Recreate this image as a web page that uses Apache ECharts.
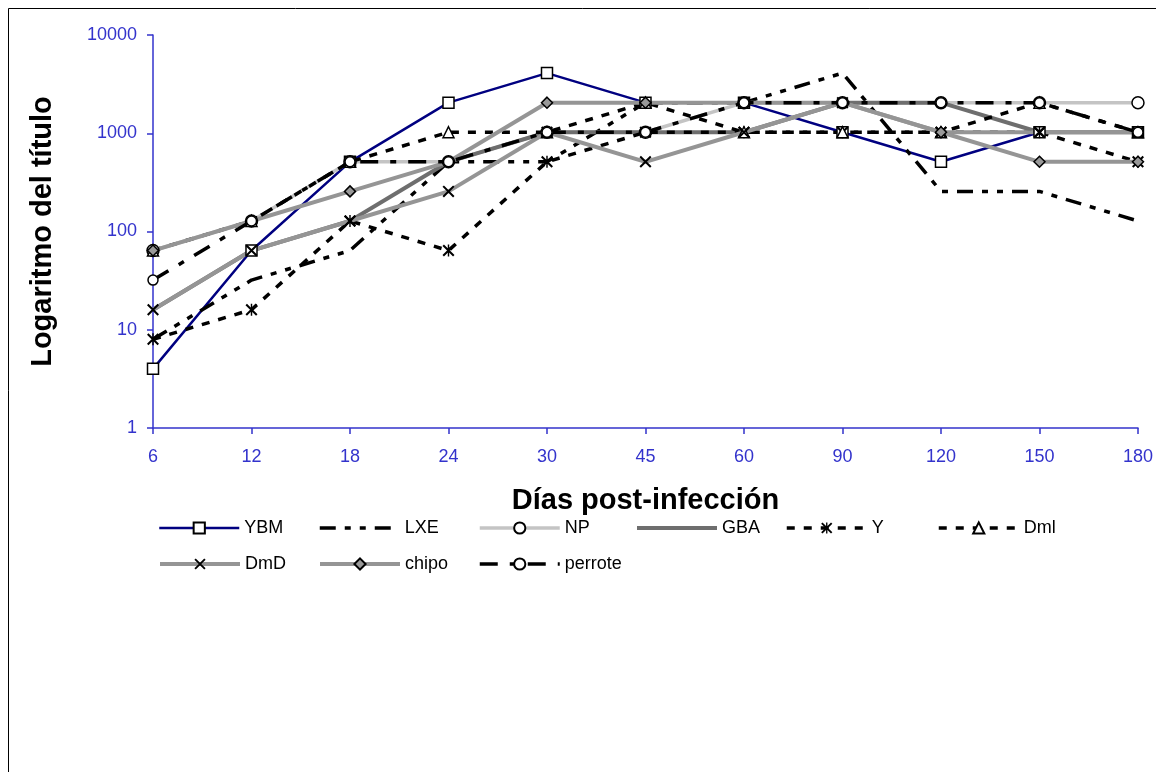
<!DOCTYPE html>
<html>
<head>
    <meta charset="utf-8">
    <script src="https://cdn.jsdelivr.net/npm/echarts@6/dist/echarts.min.js"></script>
</head>
<body style="margin:0;background:#fff">
    <div id="main" style="width: 1156px;height:772px;"></div>
    <script type="text/javascript">
        // días post-infección y títulos (escala log)
        var dias = ['6', '12', '18', '24', '30', '45', '60', '90', '120', '150', '180'];
        var YBM = [4, 64, 512, 2048, 4096, 2048, 2048, 1024, 512, 1024, 1024];
        var LXE = [8, 32, 64, 512, 512, 2048, 2048, 4096, 256, 256, 128];
        var NP = [64, 128, 512, 512, 1024, 1024, 2048, 2048, 2048, 2048, 2048];
        var GBA = [16, 64, 128, 512, 1024, 1024, 1024, 2048, 2048, 1024, 1024];
        var Y = [8, 16, 128, 64, 512, 1024, 1024, 1024, 1024, 1024, 512];
        var Dml = [64, 128, 512, 1024, 1024, 2048, 1024, 1024, 1024, 2048, 1024];
        var DmD = [16, 64, 128, 256, 1024, 512, 1024, 2048, 1024, 1024, 1024];
        var chipo = [64, 128, 256, 512, 2048, 2048, 2048, 2048, 1024, 512, 512];
        var perrote = [32, 128, 512, 512, 1024, 1024, 2048, 2048, 2048, 2048, 1024];

        var cruz = 'path://M0,1.2 L1.2,0 L10,8.8 L8.8,10 Z M8.8,0 L10,1.2 L1.2,10 L0,8.8 Z';
        var asterisco = cruz + ' M4.4,0 L5.6,0 L5.6,10 L4.4,10 Z';
        var azul = '#3333cc';

        function serie(nombre, datos, linea, simbolo, tam, estilo) {
            var s = {
                name: nombre,
                type: 'line',
                data: datos,
                symbol: simbolo,
                symbolSize: tam,
                showAllSymbol: true,
                lineStyle: linea,
                itemStyle: estilo
            };
            if (estilo.opacity === 0) s.showSymbol = false;
            return s;
        }
        var blanco = { color: '#fff', borderColor: '#000', borderWidth: 1.5 };
        var negro = { color: '#000', borderWidth: 0 };
        var oculto = { color: '#000', opacity: 0 };

        // leyenda al estilo Excel: columnas fijas
        var leyenda = [
            ['YBM', 158, 519], ['LXE', 318, 519], ['NP', 478, 519], ['GBA', 635, 519], ['Y', 785, 519], ['Dml', 937, 519],
            ['DmD', 158, 555], ['chipo', 318, 555], ['perrote', 478, 555]
        ].map(function (l) {
            return {
                data: [l[0]],
                left: l[1], top: l[2],
                padding: 0,
                itemWidth: 80, itemHeight: 14,
                lineStyle: { width: 'inherit' },
                textStyle: { fontSize: 18, color: '#000' }
            };
        });

        var myChart = echarts.init(document.getElementById('main'));
        var option = {
            animation: false,
            backgroundColor: '#fff',
            textStyle: { fontFamily: 'Liberation Sans, Arial, sans-serif' },
            graphic: [{
                type: 'rect',
                shape: { x: 8.5, y: 8.5, width: 1200, height: 800 },
                style: { fill: 'none', stroke: '#000', lineWidth: 1 }
            }],
            grid: { left: 153, right: 16, top: 35, bottom: 344 },
            legend: leyenda,
            xAxis: {
                type: 'category',
                data: dias,
                boundaryGap: false,
                name: 'Días post-infección',
                nameLocation: 'middle',
                nameGap: 58,
                nameTextStyle: { fontSize: 29, fontWeight: 'bold', color: '#000' },
                axisLine: { lineStyle: { color: azul, width: 1.5 } },
                axisTick: { alignWithLabel: true, length: 6, lineStyle: { color: azul, width: 1.5 } },
                axisLabel: { color: azul, fontSize: 18, margin: 20 },
                splitLine: { show: false }
            },
            yAxis: {
                type: 'log',
                logBase: 10,
                min: 1,
                max: 10000,
                name: 'Logaritmo del título',
                nameLocation: 'middle',
                nameGap: 96,
                nameTextStyle: { fontSize: 29, fontWeight: 'bold', color: '#000' },
                axisLine: { show: true, lineStyle: { color: azul, width: 1.5 } },
                axisTick: { show: true, length: 6, lineStyle: { color: azul, width: 1.5 } },
                axisLabel: {
                    color: azul, fontSize: 18, margin: 16,
                    formatter: function (v) { return String(Math.round(v)); }
                },
                splitLine: { show: false }
            },
            series: [
                serie('YBM', YBM, { color: '#000080', width: 2.5, type: 'solid' }, 'rect', 11, blanco),
                serie('LXE', LXE, { color: '#000', width: 3.5, type: [16, 9, 6, 9, 6, 9] }, 'circle', 1, oculto),
                serie('NP', NP, { color: '#c4c4c4', width: 3.5, type: 'solid' }, 'circle', 12, blanco),
                serie('GBA', GBA, { color: '#6e6e6e', width: 4, type: 'solid' }, 'circle', 1, oculto),
                serie('Y', Y, { color: '#000', width: 3.5, type: [8, 9] }, asterisco, 12, negro),
                serie('Dml', Dml, { color: '#000', width: 3.5, type: [8, 9] }, 'triangle', 11, blanco),
                serie('DmD', DmD, { color: '#959595', width: 4, type: 'solid' }, cruz, 12, negro),
                serie('chipo', chipo, { color: '#959595', width: 4, type: 'solid' }, 'diamond', 11,
                    { color: '#999', borderColor: '#000', borderWidth: 1.5 }),
                serie('perrote', perrote, { color: '#000', width: 3.5, type: [18, 12, 6, 12] }, 'circle', 10, blanco)
            ]
        };
        myChart.setOption(option);
    </script>
</body>
</html>
